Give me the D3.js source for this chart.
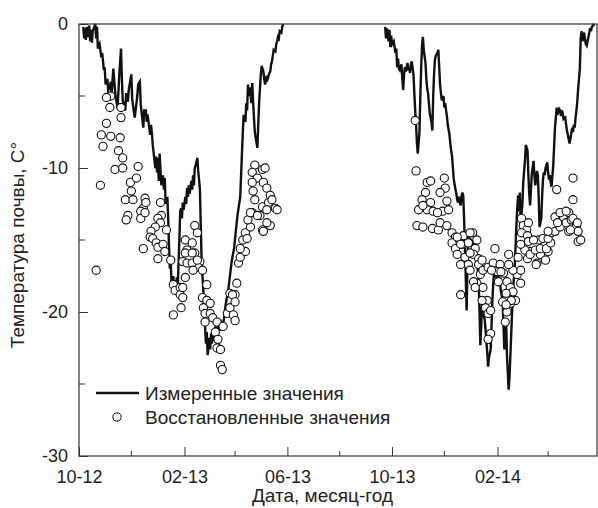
<!DOCTYPE html>
<html>
<head>
<meta charset="utf-8">
<script src="https://cdn.jsdelivr.net/npm/d3@7"></script>
<style>
  body { margin: 0; background: #fff; }
  text { font-family: "Liberation Sans", Arial, sans-serif; fill: #222; }
</style>
</head>
<body>
<div id="container"></div>
<script>
let w = 598;
let h = 508;
let margin = {top: 24, right: 1, bottom: 52, left: 79};

// days since 2012-10-01, soil temperature
let startDate = new Date(Date.UTC(2012, 9, 1));
let endDay = 604;

let measured = [
  [5,-0.2],[6,-1.0],[7,-0.3],[8,-1.1],[9,-0.2],[10,-0.9],[12,-0.1],[13,-1.2],[14,-0.4],[15,-1.3],[16,-0.5],[19,0],[20,-1.0],[21,-0.2],[22,-1.7],[24,-1.4],[26,-2.3],[27,-2.0],[28,-2.6],[29,-3.2],[30,-3.0],[31,-4.2],[33,-3.8],[34,-4.6],[36,-4.4],[37,-4.0],[38,-4.9],[40,-3.1],[42,-4.6],[43,-5.2],[45,-5.8],[47,-3.5],[49,-1.7],[50,-3.8],[51,-5.3],[54,-6.0],[55,-4.8],[57,-5.4],[58,-4.6],[61,-3.5],[62,-5.2],[64,-6.1],[65,-6.5],[68,-5.0],[69,-4.2],[71,-4.0],[72,-5.6],[75,-7.2],[76,-6.0],[78,-6.0],[79,-6.8],[80,-6.3],[83,-7.7],[84,-7.0],[85,-7.6],[86,-8.4],[89,-10.0],[90,-9.2],[91,-10.3],[92,-9.3],[93,-10.9],[94,-9.0],[96,-11.2],[98,-10.5],[99,-11.5],[100,-10.7],[101,-12.5],[103,-12.0],[104,-13.5],[105,-15.5],[106,-17.0],[107,-16.5],[108,-18.3],[110,-17.5],[111,-18.7],[112,-17.8],[113,-18.6],[114,-17.6],[115,-18.5],[117,-15.0],[118,-13.0],[119,-12.8],[120,-13.5],[121,-12.4],[122,-12.9],[124,-12.0],[125,-12.5],[126,-11.4],[127,-12.0],[128,-11.2],[129,-11.8],[131,-10.9],[132,-11.5],[133,-10.5],[134,-11.2],[135,-10.0],[136,-9.8],[138,-9.3],[139,-10.2],[140,-10.8],[141,-11.5],[142,-14.0],[143,-16.5],[145,-18.5],[146,-20.0],[147,-21.0],[148,-22.2],[149,-21.4],[150,-23.0],[152,-21.8],[153,-22.6],[154,-21.5],[155,-22.2],[156,-21.2],[157,-22.0],[159,-21.0],[160,-21.8],[161,-20.8],[162,-21.5],[163,-20.6],[164,-21.3],[166,-20.8],[167,-21.0],[169,-20.5],[171,-19.5],[174,-18.5],[176,-17.5],[178,-16.5],[181,-15.5],[183,-14.3],[185,-13.2],[188,-12.0],[189,-10.5],[190,-9.0],[191,-7.5],[192,-6.3],[194,-6.8],[195,-5.5],[196,-6.0],[197,-4.2],[198,-5.0],[199,-4.4],[201,-5.5],[202,-4.1],[203,-5.4],[204,-6.5],[205,-7.5],[206,-7.9],[208,-8.6],[209,-7.0],[210,-5.5],[211,-4.5],[212,-3.5],[213,-2.9],[215,-3.3],[216,-3.8],[217,-4.2],[218,-3.9],[219,-3.6],[220,-3.8],[222,-3.4],[223,-3.3],[224,-2.8],[225,-2.6],[226,-2.2],[227,-1.8],[229,-1.9],[230,-1.4],[231,-1.2],[232,-0.9],[233,-1.0],[234,-0.5],[236,-0.6],[237,-0.2],[238,0],
  [300,null],
  [357,-0.2],[358,-1.0],[359,-0.3],[361,-1.2],[362,-0.4],[363,-1.6],[364,-0.8],[365,-1.4],[367,-1.2],[369,-2.0],[370,-1.7],[371,-3.0],[372,-2.4],[373,-3.1],[374,-3.2],[376,-2.8],[377,-3.8],[378,-4.6],[379,-3.5],[380,-3.0],[381,-3.3],[383,-2.7],[384,-3.2],[385,-3.0],[386,-3.4],[387,-2.8],[388,-2.6],[390,-3.5],[391,-4.8],[392,-6.0],[393,-7.0],[394,-8.2],[395,-9.0],[397,-7.5],[398,-5.0],[399,-3.0],[400,-1.5],[401,-0.9],[402,-1.8],[404,-2.7],[405,-3.8],[406,-4.5],[407,-4.8],[408,-5.5],[409,-6.2],[411,-6.8],[412,-7.4],[413,-5.0],[414,-3.5],[415,-2.5],[416,-2.2],[418,-2.0],[419,-1.8],[420,-3.0],[421,-4.2],[422,-4.8],[423,-5.3],[425,-5.0],[426,-5.8],[427,-5.5],[428,-6.0],[429,-6.4],[430,-7.0],[432,-7.7],[433,-8.3],[434,-8.8],[435,-9.2],[436,-10.0],[437,-10.8],[439,-11.5],[440,-11.8],[441,-12.2],[442,-12.4],[443,-12.0],[445,-12.6],[446,-12.0],[447,-11.7],[448,-11.9],[449,-13.5],[450,-15.5],[452,-19.9],[453,-16.5],[454,-14.3],[455,-14.8],[456,-15.2],[457,-14.9],[459,-15.7],[460,-15.0],[461,-15.6],[462,-14.8],[463,-15.5],[464,-16.5],[466,-17.8],[467,-20.0],[468,-22.3],[469,-21.0],[470,-19.2],[471,-20.0],[473,-20.5],[474,-21.2],[475,-22.0],[476,-22.8],[477,-23.8],[478,-23.2],[480,-22.6],[481,-21.0],[482,-19.2],[483,-18.0],[484,-17.2],[485,-17.6],[487,-17.0],[488,-17.8],[489,-17.3],[490,-18.2],[491,-18.0],[492,-18.6],[494,-19.2],[495,-21.0],[496,-22.6],[497,-21.5],[498,-20.5],[499,-23.0],[501,-25.4],[502,-24.5],[503,-23.0],[504,-21.5],[505,-20.0],[506,-18.5],[508,-17.0],[509,-15.5],[510,-14.0],[511,-12.8],[512,-11.9],[513,-13.0],[514,-11.7],[515,-13.8],[517,-12.5],[518,-11.0],[519,-10.2],[520,-9.5],[521,-8.4],[523,-8.8],[524,-10.5],[525,-11.8],[526,-12.6],[527,-11.5],[528,-10.4],[530,-9.5],[531,-10.5],[532,-11.2],[533,-10.8],[534,-10.2],[535,-10.5],[536,-12.0],[537,-14.1],[539,-13.5],[540,-12.0],[541,-10.8],[542,-10.3],[543,-10.5],[544,-10.0],[546,-9.6],[547,-10.3],[548,-10.8],[549,-10.5],[550,-11.0],[551,-11.3],[553,-9.8],[554,-8.5],[555,-7.2],[556,-6.5],[557,-5.8],[558,-6.3],[560,-5.9],[561,-6.0],[562,-6.4],[563,-6.0],[564,-6.2],[565,-6.6],[567,-6.5],[568,-7.0],[569,-7.4],[570,-7.7],[571,-8.0],[572,-8.3],[574,-7.6],[575,-7.2],[576,-7.5],[577,-7.0],[578,-7.2],[579,-6.5],[580,-6.0],[581,-5.4],[582,-4.5],[584,-3.1],[585,-1.0],[586,-0.5],[587,-1.2],[588,-0.8],[589,-0.6],[590,-1.1],[591,-1.4],[592,-1.5],[594,-0.9],[595,-0.6],[596,-0.3],[597,-0.5],[598,-0.2],[601,0]
];

let reconstructed = [
  // winter 2012-13
  [37,-5.0],[32,-5.1],[36,-5.8],[49,-5.8],[32,-6.9],[49,-6.5],[26,-7.7],[37,-7.8],[48,-7.9],[28,-8.5],[46,-8.8],[51,-9.3],[42,-10.1],[51,-10.0],[69,-9.9],[25,-11.2],[60,-11.0],[67,-10.7],[61,-11.6],[54,-12.2],[63,-12.2],[77,-12.1],[75,-12.8],[95,-12.4],[57,-13.3],[72,-13.0],[96,-13.3],[20,-17.1],[78,-12.4],[55,-13.6],[72,-13.5],[77,-13.1],[92,-13.5],[95,-13.8],[89,-14.1],[84,-14.4],[102,-14.3],[83,-14.8],[86,-14.9],[90,-15.2],[92,-15.5],[98,-15.3],[100,-15.8],[75,-15.6],[92,-16.3],[107,-16.4],
  [110,-18.1],[112,-18.5],[118,-18.3],[118,-18.8],[121,-18.3],[119,-19.7],[110,-20.2],[121,-19.0],[124,-17.6],[121,-16.5],[126,-15.7],[124,-15.0],[132,-15.2],[135,-14.0],[138,-14.5],[135,-15.9],[141,-16.5],[139,-16.9],[124,-15.9],[132,-15.9],[126,-16.6],[132,-16.6],[138,-16.4],[144,-17.1],[133,-17.1],
  [149,-18.1],[144,-19.0],[149,-19.2],[153,-19.4],[145,-19.7],[147,-20.1],[153,-20.1],[156,-20.4],[161,-20.7],[147,-20.7],[159,-21.4],[162,-21.9],[161,-22.5],[165,-22.6],[165,-23.7],[167,-24.0],[168,-21.0],[173,-20.1],[176,-19.7],[180,-20.2],[182,-20.6],[176,-18.7],[182,-18.8],[184,-18.0],[179,-18.8],[182,-19.3],[186,-16.6],[188,-16.2],[194,-15.8],
  [188,-15.6],[191,-15.0],[194,-14.5],[200,-14.1],[197,-13.6],[202,-13.1],[211,-13.3],[214,-14.3],[223,-14.0],[214,-12.7],[221,-12.4],[229,-12.8],[205,-9.8],[214,-10.1],[217,-10.0],[202,-10.3],[208,-10.7],[202,-11.0],[215,-11.0],[203,-11.6],[219,-11.4],[223,-11.9],[225,-12.2],[205,-12.2],[219,-12.9],[231,-12.9],[200,-13.1],[208,-13.3],[219,-13.8],[215,-14.4],[196,-14.9],
  // winter 2013-14
  [392,-6.7],[393,-10.2],[406,-11.0],[410,-10.9],[426,-10.7],[427,-11.4],[421,-11.7],[404,-11.7],[400,-12.2],[410,-12.4],[429,-12.3],[396,-12.9],[406,-12.9],[413,-13.0],[424,-13.0],[431,-12.9],[401,-12.6],[418,-13.1],
  [394,-14.0],[401,-14.1],[412,-14.2],[419,-14.3],[421,-13.8],[429,-14.0],[435,-14.5],[439,-14.8],[448,-14.7],[459,-14.5],[464,-15.0],[435,-15.2],[439,-15.6],[447,-15.3],[454,-15.2],[462,-15.6],[441,-16.0],[450,-16.2],[460,-16.0],[466,-16.3],[445,-16.7],[454,-16.7],[466,-16.7],[456,-17.1],[468,-17.4],[471,-17.1],[477,-16.9],[464,-18.0],[471,-18.3],[445,-18.8],[476,-19.2],[474,-19.7],[477,-20.1],[480,-21.5],[477,-21.9],[456,-15.9],[470,-16.4],[460,-17.9],[462,-18.3],[470,-19.2],[480,-19.9],[441,-14.8],[456,-14.5],[445,-15.3],[485,-15.6],
  [483,-16.6],[491,-16.7],[488,-17.2],[495,-17.3],[489,-17.9],[499,-17.9],[503,-18.3],[506,-18.6],[499,-19.0],[509,-19.2],[503,-19.4],[494,-19.3],[499,-20.0],[497,-20.7],[515,-18.0],[511,-17.4],[515,-17.1],[506,-17.1],[501,-16.7],[501,-16.0],[512,-16.2],[523,-16.3],[526,-15.8],[538,-16.0],[547,-15.8],[544,-16.4],[534,-16.6],[481,-17.1],[492,-17.2],[498,-18.7],[504,-19.2],[498,-19.5],
  [516,-13.5],[518,-14.0],[522,-14.3],[516,-14.5],[524,-13.8],[520,-15.7],[526,-16.0],[533,-16.7],[532,-15.7],[538,-15.6],[545,-15.6],[550,-15.2],[536,-15.0],[541,-14.9],[547,-14.9],[551,-14.5],[555,-14.4],[561,-14.1],[559,-13.6],[565,-13.4],[571,-13.1],[555,-13.4],[561,-13.1],[568,-13.8],[574,-13.6],[580,-14.0],[571,-14.4],[582,-14.4],[582,-15.1],[576,-12.2],[557,-11.5],[576,-10.7],[568,-13.0],
  [523,-14.7],[524,-15.1],[515,-15.3],[530,-15.0],[547,-14.4],[558,-13.8],[573,-14.3],[576,-13.5],[581,-13.8],[585,-15.0]
];

let yTicks = [0, -10, -20, -30];
let yMinor = [-5, -15, -25];
let xTickLabels = ["10-12", "02-13", "06-13", "10-13", "02-14"];
let xMinorLabels = ["12-12", "04-13", "08-13", "12-13", "04-14"];

let seriesNames = ["Измеренные значения", "Восстановленные значения"];
let xTitle = "Дата, месяц-год";
let yTitle = "Температура почвы, С°";

let dayToDate = d => d3.utcDay.offset(startDate, d);
let parseTick = d3.utcParse("%m-%y");

let viz = d3.select("#container").append("svg")
    .attr("width", w)
    .attr("height", h)
    .style("display", "block");

let x = d3.scaleUtc()
    .domain([startDate, dayToDate(endDay)])
    .range([margin.left, w - margin.right]);
let y = d3.scaleLinear()
    .domain([-30, 0])
    .range([h - margin.bottom, margin.top]);

// measured line
let lineMaker = d3.line()
    .defined(d => d[1] !== null)
    .x(d => x(dayToDate(d[0])))
    .y(d => y(d[1]));

viz.append("path")
    .datum(measured)
    .attr("d", lineMaker)
    .attr("fill", "none")
    .attr("stroke", "#111")
    .attr("stroke-width", 2.4)
    .attr("stroke-linejoin", "miter");

// reconstructed circles
viz.selectAll(".rec").data(reconstructed).enter()
  .append("circle")
    .attr("class", "rec")
    .attr("cx", d => x(dayToDate(d[0])))
    .attr("cy", d => y(d[1]))
    .attr("r", 4.1)
    .attr("fill", "white")
    .attr("stroke", "#111")
    .attr("stroke-width", 1.1);

// frame
viz.append("rect")
    .attr("x", margin.left)
    .attr("y", margin.top)
    .attr("width", w - margin.left - margin.right)
    .attr("height", h - margin.top - margin.bottom)
    .attr("fill", "none")
    .attr("stroke", "#333")
    .attr("stroke-width", 1.2);

// axes (ticks inward)
let xMajor = xTickLabels.map(parseTick);
let xAxis = d3.axisBottom(x).tickValues(xMajor).tickSize(-9).tickPadding(14)
    .tickFormat(d3.utcFormat("%m-%y"));
let gx = viz.append("g").attr("transform", `translate(0,${h - margin.bottom})`).call(xAxis);
gx.append("g").selectAll("line").data(xMinorLabels.map(parseTick)).enter()
  .append("line")
    .attr("x1", d => x(d)).attr("x2", d => x(d))
    .attr("y1", 0).attr("y2", -5)
    .attr("stroke", "#333");

let yAxis = d3.axisLeft(y).tickValues(yTicks).tickSize(-9).tickPadding(11)
    .tickFormat(d => String(d));
let gy = viz.append("g").attr("transform", `translate(${margin.left},0)`).call(yAxis);
gy.append("g").selectAll("line").data(yMinor).enter()
  .append("line")
    .attr("x1", 0).attr("x2", 6)
    .attr("y1", d => y(d)).attr("y2", d => y(d))
    .attr("stroke", "#333");

[gx, gy].forEach(g => {
  g.select(".domain").remove();
  g.selectAll(".tick line").attr("stroke", "#333");
  g.selectAll("text").attr("font-size", 18)
    .attr("font-family", "Liberation Sans, Arial, sans-serif").attr("fill", "#222");
});

// titles
viz.append("text")
    .attr("x", (margin.left + w) / 2 - 16)
    .attr("y", 502)
    .attr("text-anchor", "middle")
    .attr("font-size", 19)
    .text(xTitle);
viz.append("text")
    .attr("transform", `translate(24,${(margin.top + h - margin.bottom) / 2 + 5}) rotate(-90)`)
    .attr("text-anchor", "middle")
    .attr("font-size", 19)
    .text(yTitle);

// legend
let legend = viz.append("g");
legend.append("line")
    .attr("x1", 96).attr("x2", 139)
    .attr("y1", 393).attr("y2", 393)
    .attr("stroke", "#111").attr("stroke-width", 2.4);
legend.append("circle")
    .attr("cx", 117).attr("cy", 417).attr("r", 4.1)
    .attr("fill", "white").attr("stroke", "#111");
legend.selectAll("text").data(seriesNames).enter()
  .append("text")
    .attr("x", 145)
    .attr("y", (d, i) => 393 + i * 24)
    .attr("dy", "0.35em")
    .attr("font-size", 19)
    .text(d => d);
</script>
</body>
</html>
